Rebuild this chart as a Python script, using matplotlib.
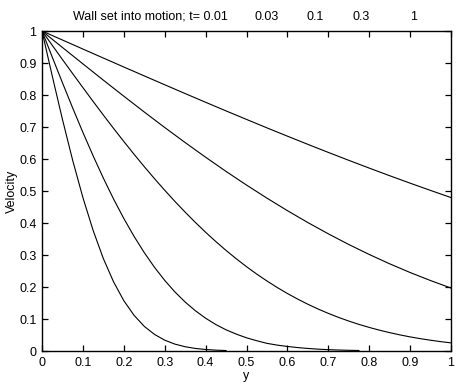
import matplotlib
matplotlib.use('Agg')
import matplotlib.pyplot as plt

# Velocity profiles (Stokes first problem)
y_fine = [0, 0.025, 0.05, 0.075, 0.1, 0.125, 0.15, 0.175, 0.2, 0.225, 0.25,
          0.275, 0.3, 0.325, 0.35, 0.375, 0.4, 0.425, 0.45, 0.475, 0.5,
          0.525, 0.55, 0.575, 0.6, 0.625, 0.65, 0.675, 0.7, 0.725, 0.75,
          0.775, 0.8, 0.825, 0.85, 0.875, 0.9, 0.925, 0.95, 0.975, 1.0]
y_coarse = [0, 0.05, 0.1, 0.15, 0.2, 0.25, 0.3, 0.35, 0.4, 0.45, 0.5,
            0.55, 0.6, 0.65, 0.7, 0.75, 0.8, 0.85, 0.9, 0.95, 1.0]

u_t001 = [1.0, 0.8597, 0.7237, 0.5959, 0.4795, 0.3768, 0.2888, 0.2160,
          0.1573, 0.1116, 0.0771, 0.0519, 0.0339, 0.0215, 0.0133, 0.0080,
          0.0047, 0.0027, 0.0015]
u_t003 = [1.0, 0.9187, 0.8383, 0.7595, 0.6831, 0.6099, 0.5403, 0.4749,
          0.4142, 0.3584, 0.3075, 0.2616, 0.2207, 0.1845, 0.1530, 0.1258,
          0.1025, 0.0827, 0.0662, 0.0528, 0.0412, 0.0321, 0.0239, 0.0184,
          0.0142, 0.0107, 0.0080, 0.0058, 0.0042, 0.0031, 0.0022, 0.0016]
u_t01 = [1.0, 0.9554, 0.9109, 0.8668, 0.8231, 0.7799, 0.7373, 0.6956,
         0.6548, 0.6149, 0.5762, 0.5386, 0.5024, 0.4674, 0.4339, 0.4018,
         0.3711, 0.3420, 0.3143, 0.2882, 0.2635, 0.2404, 0.2188, 0.1985,
         0.1797, 0.1623, 0.1461, 0.1312, 0.1176, 0.1050, 0.0936, 0.0831,
         0.0737, 0.0651, 0.0574, 0.0504, 0.0441, 0.0386, 0.0337, 0.0292,
         0.0254]
u_t03 = [1.0, 0.9485, 0.8973, 0.8464, 0.7963, 0.7469, 0.6985, 0.6514,
         0.6056, 0.5612, 0.5186, 0.4777, 0.4386, 0.4014, 0.3662, 0.3329,
         0.3017, 0.2725, 0.2453, 0.2201, 0.1967]
u_t1 = [1.0, 0.9718, 0.9436, 0.9155, 0.8875, 0.8597, 0.8320, 0.8045,
        0.7773, 0.7503, 0.7237, 0.6973, 0.6714, 0.6458, 0.6206, 0.5959,
        0.5716, 0.5478, 0.5245, 0.5018, 0.4795]

times = ['0.01', '0.03', '0.1', '0.3', '1']

plt.rcParams['font.family'] = ['Liberation Sans', 'DejaVu Sans']
plt.rcParams['font.size'] = 9

fig = plt.figure(figsize=(4.7, 3.86), dpi=100)
ax = fig.add_axes([42 / 470, 1 - 351 / 386, 409 / 470, 320 / 386])

ax.plot(y_fine[:len(u_t001)], u_t001, color='black', lw=0.8)
ax.plot(y_fine[:len(u_t003)], u_t003, color='black', lw=0.8)
ax.plot(y_fine, u_t01, color='black', lw=0.8)
ax.plot(y_coarse, u_t03, color='black', lw=0.8)
ax.plot(y_coarse, u_t1, color='black', lw=0.8)

ax.set_xlim(0, 1)
ax.set_ylim(0, 1)
ticks = [0, 0.1, 0.2, 0.3, 0.4, 0.5, 0.6, 0.7, 0.8, 0.9, 1]
labels = ['0', '0.1', '0.2', '0.3', '0.4', '0.5', '0.6', '0.7', '0.8', '0.9', '1']
ax.set_xticks(ticks)
ax.set_xticklabels(labels)
ax.set_yticks(ticks)
ax.set_yticklabels(labels)
ax.tick_params(direction='in', length=4, width=0.9, top=True, right=True,
               pad=4)
for s in ax.spines.values():
    s.set_linewidth(1.0)

ax.set_xlabel('y', labelpad=1)
ax.set_ylabel('Velocity', labelpad=1)

# title pieces
ax.text(0.455, 1.044, 'Wall set into motion; t= ' + times[0],
        transform=ax.transAxes, ha='right', va='center')
xs = [0.550, 0.667, 0.780, 0.909]
for x, t in zip(xs, times[1:]):
    ax.text(x, 1.044, t, transform=ax.transAxes, ha='center', va='center')

fig.savefig('out.png', dpi=100)
